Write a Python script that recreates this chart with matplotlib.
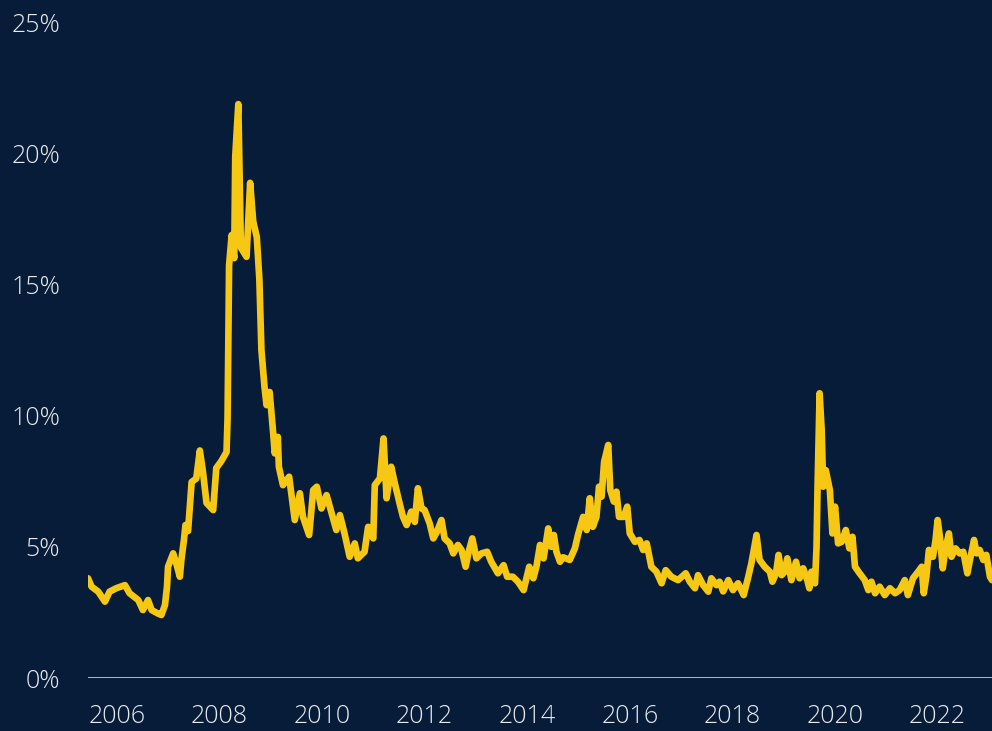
import matplotlib
matplotlib.use("Agg")
import matplotlib.pyplot as plt
from matplotlib import font_manager

BG_COLOR = "#061c39"
LINE_COLOR = "#f6c814"
TEXT_COLOR = "#e8eaee"

# decimal year, spread in percent
years = [
    2005.94, 2006.01, 2006.14, 2006.27, 2006.36, 2006.49, 2006.66, 2006.75, 2006.92, 2007.01,
    2007.11, 2007.18, 2007.30, 2007.37, 2007.44, 2007.48, 2007.50, 2007.60, 2007.66, 2007.73,
    2007.76, 2007.81, 2007.84, 2007.89, 2007.96, 2008.05, 2008.12, 2008.18, 2008.25, 2008.38,
    2008.44, 2008.54, 2008.64, 2008.66, 2008.69, 2008.74, 2008.79, 2008.81, 2008.87, 2008.92,
    2009.03, 2009.10, 2009.16, 2009.23, 2009.28, 2009.32, 2009.38, 2009.42, 2009.48, 2009.55,
    2009.58, 2009.64, 2009.66, 2009.74, 2009.86, 2009.97, 2010.07, 2010.13, 2010.25, 2010.33,
    2010.40, 2010.49, 2010.59, 2010.68, 2010.78, 2010.85, 2010.94, 2011.04, 2011.14, 2011.20,
    2011.33, 2011.40, 2011.50, 2011.53, 2011.63, 2011.70, 2011.76, 2011.85, 2011.92, 2012.02,
    2012.08, 2012.15, 2012.24, 2012.31, 2012.37, 2012.44, 2012.50, 2012.60, 2012.67, 2012.74,
    2012.83, 2012.89, 2012.99, 2013.06, 2013.15, 2013.22, 2013.30, 2013.36, 2013.43, 2013.51,
    2013.61, 2013.72, 2013.80, 2013.93, 2014.04, 2014.11, 2014.22, 2014.32, 2014.43, 2014.54,
    2014.62, 2014.68, 2014.75, 2014.82, 2014.91, 2014.97, 2015.02, 2015.07, 2015.14, 2015.20,
    2015.33, 2015.43, 2015.49, 2015.59, 2015.66, 2015.72, 2015.78, 2015.85, 2015.90, 2015.95,
    2016.00, 2016.08, 2016.12, 2016.19, 2016.24, 2016.29, 2016.38, 2016.45, 2016.50, 2016.60,
    2016.69, 2016.76, 2016.83, 2016.92, 2017.02, 2017.12, 2017.20, 2017.31, 2017.44, 2017.59,
    2017.67, 2017.77, 2017.83, 2017.93, 2018.03, 2018.09, 2018.19, 2018.25, 2018.32, 2018.42,
    2018.51, 2018.61, 2018.72, 2018.81, 2018.87, 2018.97, 2019.03, 2019.13, 2019.23, 2019.28,
    2019.35, 2019.40, 2019.46, 2019.52, 2019.57, 2019.65, 2019.74, 2019.81, 2019.88, 2019.96,
    2020.00, 2020.04, 2020.11, 2020.14, 2020.16, 2020.20, 2020.24, 2020.27, 2020.32, 2020.40,
    2020.45, 2020.50, 2020.56, 2020.63, 2020.71, 2020.78, 2020.84, 2020.89, 2020.98, 2021.08,
    2021.15, 2021.21, 2021.28, 2021.37, 2021.47, 2021.57, 2021.67, 2021.76, 2021.86, 2021.92,
    2022.02, 2022.12, 2022.19, 2022.23, 2022.28, 2022.33, 2022.41, 2022.46, 2022.50, 2022.54,
    2022.60, 2022.66, 2022.72, 2022.77, 2022.85, 2022.93, 2023.00, 2023.08, 2023.13, 2023.21,
    2023.26, 2023.32, 2023.39, 2023.45, 2023.52, 2023.56,
]
spread = [
    3.80, 3.48, 3.29, 2.91, 3.29, 3.42, 3.54, 3.23, 2.97, 2.59,
    2.97, 2.59, 2.46, 2.40, 2.78, 3.48, 4.24, 4.75, 4.37, 3.86,
    4.50, 5.26, 5.83, 5.60, 7.47, 7.60, 8.67, 7.87, 6.67, 6.40,
    8.00, 8.27, 8.61, 9.87, 15.73, 16.88, 16.00, 19.87, 21.87, 16.40,
    16.05, 18.87, 17.40, 16.80, 15.20, 12.50, 11.10, 10.40, 10.90, 9.32,
    8.56, 9.19, 8.05, 7.35, 7.67, 6.02, 7.04, 6.14, 5.45, 7.16,
    7.29, 6.46, 6.97, 6.34, 5.64, 6.21, 5.51, 4.62, 5.13, 4.56,
    4.81, 5.76, 5.32, 7.35, 7.61, 9.13, 6.85, 8.05, 7.42, 6.60,
    6.14, 5.83, 6.34, 5.95, 7.23, 6.46, 6.40, 5.89, 5.32, 5.57,
    6.02, 5.32, 5.13, 4.75, 5.07, 4.88, 4.24, 4.81, 5.32, 4.56,
    4.75, 4.81, 4.43, 3.99, 4.30, 3.86, 3.86, 3.67, 3.35, 4.24,
    3.80, 4.24, 5.07, 4.56, 5.70, 5.00, 5.45, 4.81, 4.43, 4.60,
    4.50, 4.94, 5.45, 6.14, 5.64, 6.85, 5.76, 6.14, 7.29, 6.91,
    8.24, 8.88, 7.16, 6.72, 7.10, 6.14, 6.14, 6.53, 5.51, 5.19,
    5.26, 4.88, 5.13, 4.24, 4.05, 3.61, 4.11, 3.86, 3.73, 3.99,
    3.67, 3.42, 3.92, 3.54, 3.29, 3.80, 3.54, 3.67, 3.30, 3.73,
    3.35, 3.61, 3.16, 3.86, 4.37, 5.45, 4.50, 4.24, 4.05, 3.67,
    3.99, 4.69, 3.92, 4.05, 4.56, 3.73, 4.43, 3.80, 4.18, 3.73,
    3.42, 4.05, 3.61, 5.00, 7.29, 10.85, 9.45, 7.29, 7.92, 7.16,
    5.51, 6.53, 5.13, 5.19, 5.64, 4.94, 5.38, 4.24, 3.99, 3.73,
    3.35, 3.67, 3.23, 3.48, 3.16, 3.42, 3.23, 3.35, 3.73, 3.16,
    3.80, 4.05, 4.24, 3.23, 3.86, 4.88, 4.62, 5.26, 6.02, 5.45,
    4.18, 5.00, 5.51, 4.62, 4.94, 4.75, 4.81, 3.99, 4.50, 5.26,
    4.75, 4.88, 4.50, 4.69, 3.86, 3.73,
]

tick_years = [2006, 2008, 2010, 2012, 2014, 2016, 2018, 2020, 2022]
y_ticks = [0, 5, 10, 15, 20, 25]


def pick_font(candidates):
    names = {f.name for f in font_manager.fontManager.ttflist}
    for name in candidates:
        if name in names:
            return name
    return "DejaVu Sans"


font_name = pick_font(["Liberation Sans Narrow", "Open Sans", "Lato", "DejaVu Sans"])
plt.rcParams["font.family"] = [font_name, "DejaVu Sans"]

fig = plt.figure(figsize=(9.92, 7.31), dpi=100, facecolor=BG_COLOR)
ax = fig.add_axes([88 / 992, 53 / 731, 1 - 88 / 992, 656 / 731])
ax.set_facecolor(BG_COLOR)

ax.plot(years, spread, color=LINE_COLOR, lw=4.8, solid_joinstyle="round",
        solid_capstyle="round", zorder=3)
ax.axhline(0, color=TEXT_COLOR, lw=1.8, zorder=2)

ax.set_xlim(years[0], years[-1])
ax.set_ylim(0, 25)

# year labels sit in the middle of each year
ax.set_xticks([y + 0.5 for y in tick_years])
ax.set_xticklabels([str(y) for y in tick_years])
ax.set_yticks(y_ticks)
ax.set_yticklabels([f"{v}%" for v in y_ticks])
ax.tick_params(axis="both", length=0, colors=TEXT_COLOR, labelsize=18)
ax.tick_params(axis="y", pad=20)
ax.tick_params(axis="x", pad=19)
for label in ax.get_xticklabels() + ax.get_yticklabels():
    label.set_fontweight("light")

for spine in ax.spines.values():
    spine.set_visible(False)

fig.savefig("out.png", dpi=100, facecolor=BG_COLOR)
